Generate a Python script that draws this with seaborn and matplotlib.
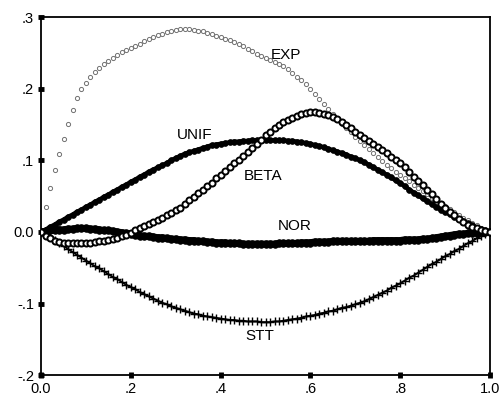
import numpy as np
import pandas as pd
import matplotlib
matplotlib.use("Agg")
import matplotlib.pyplot as plt
import seaborn as sns

# Sample points along the unit interval
x = [round(i * 0.01, 2) for i in range(101)]

exp_vals = [
    0.000, 0.035, 0.062, 0.087, 0.109, 0.130, 0.150, 0.170, 0.187, 0.199,
    0.208, 0.216, 0.223, 0.229, 0.234, 0.239, 0.243, 0.247, 0.251, 0.254,
    0.257, 0.260, 0.263, 0.266, 0.269, 0.272, 0.275, 0.277, 0.279, 0.281,
    0.282, 0.283, 0.283, 0.283, 0.282, 0.281, 0.280, 0.278, 0.276, 0.274,
    0.272, 0.270, 0.268, 0.265, 0.262, 0.259, 0.255, 0.252, 0.249, 0.246,
    0.243, 0.240, 0.237, 0.234, 0.231, 0.227, 0.222, 0.217, 0.212, 0.206,
    0.199, 0.192, 0.185, 0.178, 0.171, 0.164, 0.157, 0.151, 0.145, 0.139,
    0.133, 0.127, 0.121, 0.116, 0.110, 0.105, 0.099, 0.094, 0.089, 0.084,
    0.080, 0.075, 0.071, 0.066, 0.062, 0.057, 0.053, 0.048, 0.044, 0.040,
    0.036, 0.032, 0.028, 0.024, 0.020, 0.016, 0.012, 0.009, 0.006, 0.003,
    0.000,
]

unif_vals = [
    0.000, 0.003, 0.007, 0.010, 0.014, 0.017, 0.021, 0.024, 0.028, 0.031,
    0.035, 0.038, 0.042, 0.045, 0.049, 0.052, 0.056, 0.059, 0.063, 0.066,
    0.070, 0.073, 0.077, 0.080, 0.084, 0.087, 0.090, 0.093, 0.096, 0.100,
    0.103, 0.106, 0.109, 0.111, 0.113, 0.115, 0.117, 0.119, 0.121, 0.122,
    0.123, 0.124, 0.125, 0.126, 0.126, 0.127, 0.127, 0.128, 0.128, 0.128,
    0.128, 0.128, 0.128, 0.128, 0.128, 0.127, 0.127, 0.126, 0.125, 0.124,
    0.123, 0.121, 0.120, 0.118, 0.116, 0.114, 0.112, 0.110, 0.108, 0.105,
    0.103, 0.100, 0.097, 0.094, 0.090, 0.087, 0.083, 0.080, 0.076, 0.072,
    0.068, 0.064, 0.059, 0.055, 0.051, 0.047, 0.043, 0.039, 0.035, 0.031,
    0.028, 0.025, 0.021, 0.018, 0.015, 0.012, 0.009, 0.006, 0.004, 0.002,
    0.000,
]

beta_vals = [
    0.000, -0.005, -0.009, -0.012, -0.014, -0.015, -0.016, -0.016, -0.016, -0.016,
    -0.015, -0.015, -0.014, -0.013, -0.012, -0.011, -0.010, -0.008, -0.006, -0.004,
    -0.001, 0.002, 0.005, 0.008, 0.011, 0.014, 0.017, 0.020, 0.023, 0.027,
    0.030, 0.034, 0.039, 0.044, 0.049, 0.054, 0.059, 0.064, 0.069, 0.075,
    0.080, 0.085, 0.091, 0.096, 0.101, 0.106, 0.111, 0.117, 0.123, 0.129,
    0.135, 0.140, 0.145, 0.149, 0.153, 0.156, 0.159, 0.162, 0.164, 0.166,
    0.167, 0.167, 0.166, 0.165, 0.163, 0.160, 0.157, 0.153, 0.149, 0.145,
    0.140, 0.136, 0.131, 0.127, 0.123, 0.119, 0.115, 0.110, 0.105, 0.100,
    0.096, 0.090, 0.083, 0.077, 0.071, 0.065, 0.059, 0.053, 0.046, 0.039,
    0.033, 0.028, 0.023, 0.018, 0.014, 0.010, 0.007, 0.005, 0.003, 0.001,
    0.000,
]

nor_vals = [
    0.000, 0.001, 0.002, 0.002, 0.003, 0.003, 0.004, 0.004, 0.005, 0.005,
    0.005, 0.004, 0.004, 0.003, 0.002, 0.002, 0.001, 0.000, -0.001, -0.002,
    -0.003, -0.004, -0.005, -0.006, -0.006, -0.007, -0.008, -0.008, -0.009, -0.010,
    -0.010, -0.011, -0.011, -0.012, -0.012, -0.013, -0.013, -0.014, -0.014, -0.015,
    -0.015, -0.015, -0.016, -0.016, -0.016, -0.017, -0.017, -0.017, -0.017, -0.017,
    -0.017, -0.017, -0.017, -0.016, -0.016, -0.016, -0.016, -0.016, -0.015, -0.015,
    -0.015, -0.014, -0.014, -0.014, -0.014, -0.013, -0.013, -0.013, -0.013, -0.013,
    -0.013, -0.013, -0.013, -0.013, -0.012, -0.012, -0.012, -0.012, -0.012, -0.012,
    -0.012, -0.011, -0.011, -0.011, -0.011, -0.010, -0.010, -0.009, -0.008, -0.007,
    -0.006, -0.005, -0.004, -0.003, -0.003, -0.002, -0.001, -0.001, 0.000, 0.000,
    0.000,
]

stt_vals = [
    0.000, -0.003, -0.007, -0.011, -0.015, -0.019, -0.024, -0.028, -0.032, -0.036,
    -0.040, -0.044, -0.048, -0.051, -0.055, -0.059, -0.063, -0.066, -0.070, -0.074,
    -0.077, -0.080, -0.084, -0.087, -0.090, -0.093, -0.096, -0.099, -0.101, -0.104,
    -0.106, -0.108, -0.110, -0.112, -0.114, -0.115, -0.117, -0.118, -0.119, -0.120,
    -0.121, -0.122, -0.123, -0.123, -0.124, -0.124, -0.125, -0.125, -0.125, -0.126,
    -0.126, -0.126, -0.125, -0.125, -0.124, -0.123, -0.122, -0.121, -0.120, -0.118,
    -0.117, -0.116, -0.114, -0.113, -0.111, -0.110, -0.108, -0.106, -0.105, -0.103,
    -0.101, -0.099, -0.097, -0.094, -0.091, -0.088, -0.085, -0.082, -0.078, -0.075,
    -0.072, -0.068, -0.064, -0.061, -0.057, -0.053, -0.049, -0.045, -0.042, -0.038,
    -0.034, -0.031, -0.027, -0.024, -0.020, -0.016, -0.013, -0.009, -0.006, -0.003,
    0.000,
]

x_ticks = [0.0, 0.2, 0.4, 0.6, 0.8, 1.0]
x_tick_labels = ["0.0", ".2", ".4", ".6", ".8", "1.0"]
y_ticks = [-0.2, -0.1, 0.0, 0.1, 0.2, 0.3]
y_tick_labels = ["-.2", "-.1", "0.0", ".1", ".2", ".3"]

# Curve labels and where they sit
label_names = ["EXP", "UNIF", "BETA", "NOR", "STT"]
label_x = [0.546, 0.343, 0.494, 0.566, 0.488]
label_y = [0.247, 0.135, 0.078, 0.008, -0.145]

sns.set_style("ticks")
plt.rcParams["font.family"] = ["Liberation Sans", "DejaVu Sans"]

fig = plt.figure(figsize=(5.01, 3.97), dpi=100)
ax = fig.add_axes([0.082, 0.055, 0.896, 0.902])

df = pd.DataFrame({"x": x, "EXP": exp_vals, "UNIF": unif_vals,
                   "BETA": beta_vals, "NOR": nor_vals, "STT": stt_vals})

# EXP: sparse small hollow circles
sns.lineplot(data=df, x="x", y="EXP", ax=ax, linestyle="", marker="o",
             markersize=3.0, markerfacecolor="white", markeredgecolor="#707070",
             markeredgewidth=0.7, color="#707070", zorder=2)
# UNIF: heavy filled band
sns.lineplot(data=df, x="x", y="UNIF", ax=ax, linewidth=3.2, marker="o",
             markersize=4.2, markerfacecolor="black", markeredgecolor="black",
             markeredgewidth=0.5, color="black", zorder=3)
# BETA: hollow circles with heavy rims
sns.lineplot(data=df, x="x", y="BETA", ax=ax, linestyle="", marker="o",
             markersize=4.4, markerfacecolor="white", markeredgecolor="black",
             markeredgewidth=1.4, color="black", zorder=4)
# NOR: thick filled band
sns.lineplot(data=df, x="x", y="NOR", ax=ax, linewidth=5.0, marker="o",
             markersize=5.5, markerfacecolor="black", markeredgecolor="black",
             markeredgewidth=0.5, color="black", zorder=3)
# STT: line of plus signs
sns.lineplot(data=df, x="x", y="STT", ax=ax, linewidth=1.4, marker="+",
             markersize=6.0, markeredgewidth=1.0, markeredgecolor="black",
             color="black", zorder=3)

for name, lx, ly in zip(label_names, label_x, label_y):
    ax.text(lx, ly, name, ha="center", va="center", fontsize=11, color="black")

ax.set_xlim(0.0, 1.0)
ax.set_ylim(-0.2, 0.3)
ax.set_xticks(x_ticks)
ax.set_xticklabels(x_tick_labels)
ax.set_yticks(y_ticks)
ax.set_yticklabels(y_tick_labels)
ax.set_xlabel("")
ax.set_ylabel("")
ax.tick_params(axis="both", direction="inout", length=4, width=3.5,
               labelsize=10.5, colors="black", pad=3)
for side in ["left", "right", "top", "bottom"]:
    ax.spines[side].set_visible(True)
    ax.spines[side].set_color("black")
    ax.spines[side].set_linewidth(1.3)

fig.savefig("out.png", dpi=100)
